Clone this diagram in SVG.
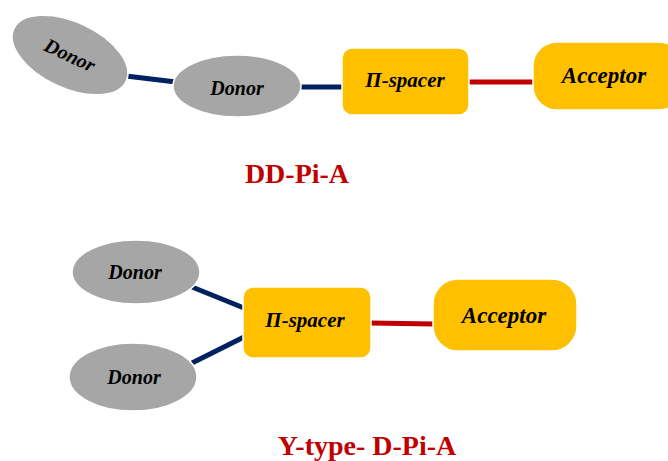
<svg xmlns="http://www.w3.org/2000/svg" width="668" height="461" viewBox="0 0 668 461">
<style>
.donor{fill:#A6A6A6;stroke:#FFFFFF;stroke-width:1.5}
.box{fill:#FFC000;stroke:#FFFFFF;stroke-width:1.5}
.lbl{font-family:"Liberation Serif","Times New Roman",serif;font-weight:bold;font-style:italic;fill:#000000;text-anchor:middle}
.title{font-family:"Liberation Serif","Times New Roman",serif;font-weight:bold;fill:#C00000;text-anchor:middle;font-size:28px}
.navy{stroke:#002060;stroke-width:5;fill:none}
.red{stroke:#C00000;stroke-width:5;fill:none}
</style>
<rect width="668" height="461" fill="#FFFFFF"/>
<g id="connectors">
<line class="navy" x1="126" y1="76" x2="176" y2="82"/>
<line class="navy" x1="299" y1="87" x2="344" y2="87"/>
<line class="red" x1="469" y1="82" x2="534" y2="82"/>
<line class="navy" x1="192" y1="287" x2="244" y2="308"/>
<line class="navy" x1="192" y1="363" x2="244" y2="337"/>
<line class="red" x1="370" y1="323" x2="434" y2="324"/>
</g>
<g id="donor1">
<g transform="translate(70,55) rotate(25)">
<ellipse class="donor" cx="0" cy="0" rx="62" ry="33"/>
<text class="lbl" x="0" y="7" font-size="20">Donor</text>
</g>
</g>
<g id="donor2">
<ellipse class="donor" cx="237" cy="86" rx="64" ry="31"/>
<text class="lbl" x="237" y="95" font-size="20">Donor</text>
</g>
<g id="spacer1">
<rect class="box" x="342" y="48" width="127" height="67" rx="10"/>
<text class="lbl" x="405" y="87" font-size="21">Π-spacer</text>
</g>
<g id="acceptor1">
<rect class="box" x="533" y="42" width="150" height="68" rx="24"/>
<text class="lbl" x="604" y="83" font-size="23">Acceptor</text>
</g>
<text id="title1" class="title" x="297" y="183">DD-Pi-A</text>
<g id="donor3">
<ellipse class="donor" cx="136" cy="272" rx="64" ry="32"/>
<text class="lbl" x="135" y="279" font-size="20">Donor</text>
</g>
<g id="donor4">
<ellipse class="donor" cx="133" cy="377" rx="64" ry="34"/>
<text class="lbl" x="134" y="384" font-size="20">Donor</text>
</g>
<g id="spacer2">
<rect class="box" x="243" y="287" width="128" height="71" rx="10"/>
<text class="lbl" x="305" y="327" font-size="21">Π-spacer</text>
</g>
<g id="acceptor2">
<rect class="box" x="433" y="279" width="144" height="72" rx="25"/>
<text class="lbl" x="504" y="323" font-size="23">Acceptor</text>
</g>
<text id="title2" class="title" x="367" y="455">Y-type- D-Pi-A</text>
</svg>
